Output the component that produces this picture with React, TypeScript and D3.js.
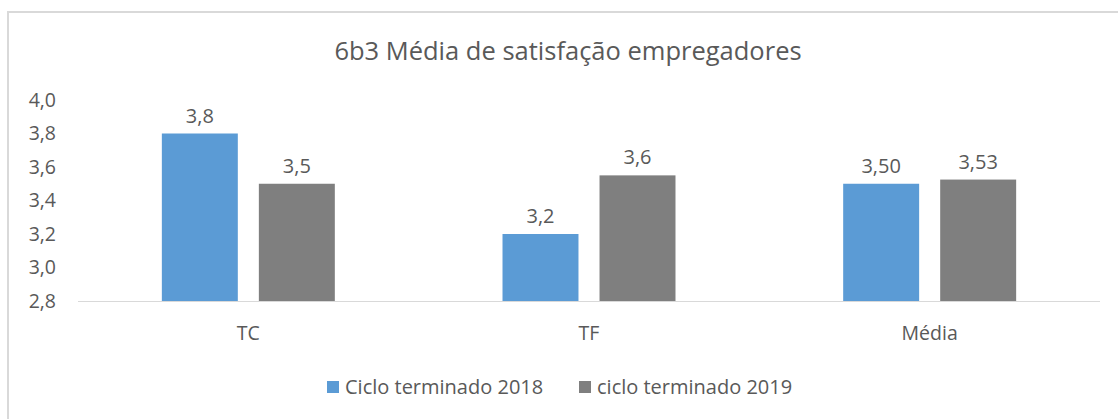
import React from "react";
import * as d3 from "d3";

const categories = ["TC", "TF", "Média"];
const series2018 = [3.8, 3.2, 3.5];
const series2019 = [3.5, 3.55, 3.525];
const labelDecimals = [1, 1, 2];
const yTicks = [2.8, 3.0, 3.2, 3.4, 3.6, 3.8, 4.0];
const seriesNames = ["Ciclo terminado 2018", "ciclo terminado 2019"];
const title = "6b3 Média de satisfação empregadores";

const W = 1118;
const H = 419;
const FONT = "'Open Sans', 'Noto Sans', sans-serif";
const TXT = "#595959";
const colors = ["#5B9BD5", "#7F7F7F"];

const fmt = (v: number, d: number) => {
  const p = Math.pow(10, d);
  return (Math.round(v * p + 1e-6) / p).toFixed(d).replace(".", ",");
};

export default function App() {
  const x = d3.scaleBand<string>().domain(categories).range([78, 1100]).padding(0);
  const y = d3.scaleLinear().domain([2.8, 4.0]).range([301, 100]);
  const bw = x.bandwidth();
  const barW = bw * 0.223;
  const gap = barW * 0.277;
  const all = [series2018, series2019];

  return (
    <svg
      width={W}
      height={H}
      style={{ position: "absolute", left: 0, top: 0 }}
      fontFamily={FONT}
    >
      <rect x={0} y={0} width={W} height={H} fill="#fff" />
      <path d={`M8,${H} L8,12 L${W},12`} fill="none" stroke="#D9D9D9" strokeWidth={2} />
      <text x={568} y={51} dy="0.35em" textAnchor="middle" fontSize={25.5} fill={TXT}>
        {title}
      </text>
      {yTicks.map((t) => (
        <text key={t} x={56} y={y(t)} dy="0.35em" textAnchor="end" fontSize={19.5} fill={TXT}>
          {fmt(t, 1)}
        </text>
      ))}
      {categories.map((c, i) => {
        const cx = (x(c) as number) + bw / 2;
        return (
          <g key={c}>
            {all.map((s, j) => {
              const bx = j === 0 ? cx - gap / 2 - barW : cx + gap / 2;
              return (
                <g key={j}>
                  <rect x={bx} y={y(s[i])} width={barW} height={y(2.8) - y(s[i])} fill={colors[j]} />
                  <text x={bx + barW / 2} y={y(s[i]) - 18} dy="0.35em" textAnchor="middle" fontSize={20} fill={TXT}>
                    {fmt(s[i], labelDecimals[i])}
                  </text>
                </g>
              );
            })}
            <text x={cx} y={333} dy="0.35em" textAnchor="middle" fontSize={19.5} fill={TXT}>
              {c}
            </text>
          </g>
        );
      })}
      <line x1={78} x2={1100} y1={301.5} y2={301.5} stroke="#D9D9D9" strokeWidth={1} />
      {seriesNames.map((n, j) => {
        const lx = j === 0 ? 327 : 579;
        return (
          <g key={n}>
            <rect x={lx} y={381} width={12} height={12} fill={colors[j]} />
            <text x={lx + 18} y={387} dy="0.35em" fontSize={20} fill={TXT}>
              {n}
            </text>
          </g>
        );
      })}
    </svg>
  );
}
